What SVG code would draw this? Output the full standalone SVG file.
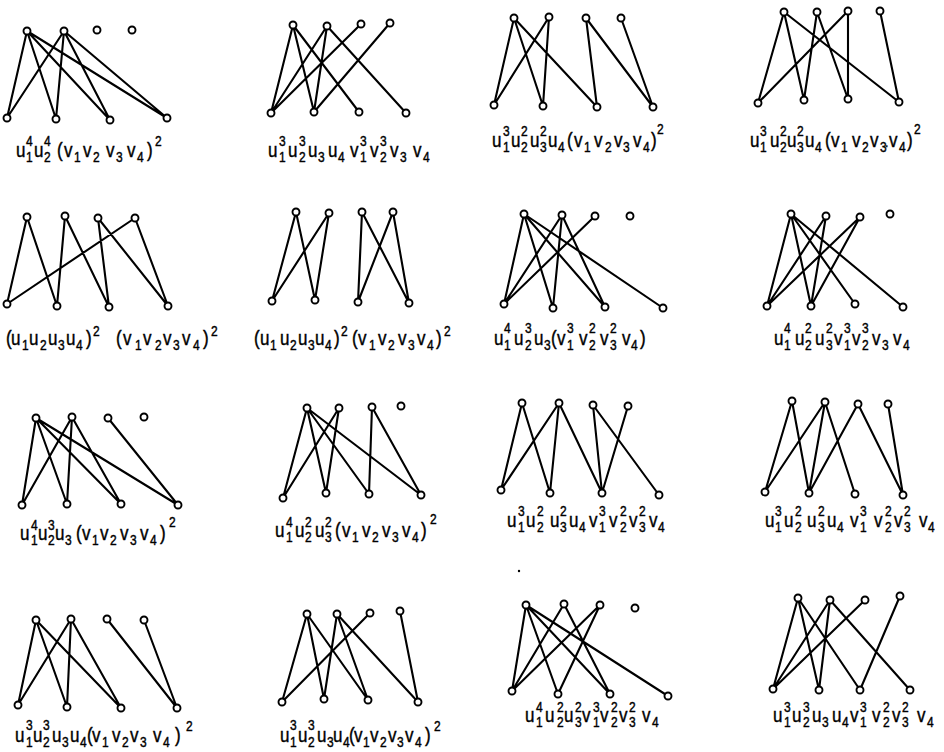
<svg xmlns="http://www.w3.org/2000/svg" width="944" height="752" viewBox="0 0 944 752">
<style>
.e{stroke:#000;stroke-width:2.1;fill:none;stroke-linecap:round}
.nodes circle{fill:#fff;stroke:#000;stroke-width:1.9}
text{font-family:"Liberation Sans",Arial,sans-serif;fill:#000;stroke:#000;stroke-width:0.35}
.b{font-size:17px}
.d{font-size:12px}
</style>
<rect width="944" height="752" fill="#fff"/>
<g id="connectors" class="e">
<path id="c1" d="M27 31L7 118M27 31L56 119M27 31L110 120M27 31L167 118M64 31L7 118M64 31L56 119M64 31L110 120M64 31L167 118"/>
<path id="c2" d="M293 25L271 113M293 25L314 112M293 25L359 112M327 26L271 113M327 26L314 112M327 26L406 113M361 24L271 113M390 23L314 112"/>
<path id="c3" d="M514 18L494 105M514 18L543 106M514 18L597 107M549 17L494 105M549 17L543 106M586 18L597 107M586 18L653 107M621 18L653 107"/>
<path id="c4" d="M784 12L758 103M784 12L804 100M784 12L899 102M817 12L804 100M817 12L848 99M848 11L758 103M848 11L848 99M880 11L899 102"/>
<path id="c5" d="M27 217L7 304M27 217L57 306M65 216L57 306M65 216L109 307M98 218L109 307M98 218L168 306M135 218L7 304M135 218L168 306"/>
<path id="c6" d="M296 212L272 301M296 212L315 300M329 213L272 301M329 213L315 300M362 212L358 302M362 212L409 303M393 212L358 302M393 212L409 303"/>
<path id="c7" d="M524 214L504 304M524 214L553 308M524 214L605 307M524 214L663 308M562 215L504 304M562 215L553 308M562 215L605 307M595 216L504 304"/>
<path id="c8" d="M791 214L767 306M791 214L811 306M791 214L855 304M791 214L903 307M826 216L767 306M826 216L811 306M860 217L767 306M860 217L811 306"/>
<path id="c9" d="M36 418L22 505M36 418L67 504M36 418L121 504M36 418L178 505M72 417L22 505M72 417L67 504M72 417L121 504M108 418L178 505"/>
<path id="c10" d="M307 408L283 498M307 408L326 493M307 408L369 494M307 408L421 495M339 408L283 498M339 408L326 493M372 407L369 494M372 407L421 495"/>
<path id="c11" d="M522 403L501 490M522 403L550 493M559 403L501 490M559 403L550 493M559 403L602 493M593 405L602 493M593 405L659 495M628 406L602 493"/>
<path id="c12" d="M792 401L765 492M792 401L809 493M825 402L765 492M825 402L809 493M825 402L855 494M858 404L809 493M858 404L903 495M888 404L903 495"/>
<path id="c13" d="M36 620L18 705M36 620L67 707M36 620L121 708M71 619L18 705M71 619L67 707M71 619L121 708M107 619L177 708M144 620L177 708"/>
<path id="c14" d="M307 614L282 702M307 614L324 699M307 614L368 700M337 614L324 699M337 614L368 700M337 614L418 702M370 613L282 702M400 611L418 702"/>
<path id="c15" d="M526 605L512 691M526 605L558 694M526 605L610 694M526 605L668 696M564 604L512 691M564 604L610 694M600 605L512 691M600 605L558 694"/>
<path id="c16" d="M798 598L773 689M798 598L819 690M798 598L860 690M830 600L773 689M830 600L819 690M830 600L910 690M865 600L773 689M900 596L860 690"/>
</g>
<g class="nodes">
<g id="g1-u1"><circle cx="27" cy="31" r="3.5"/></g><g id="g1-u2"><circle cx="64" cy="31" r="3.5"/></g><g id="g1-u3"><circle cx="97" cy="30" r="3.5"/></g><g id="g1-u4"><circle cx="132" cy="30" r="3.5"/></g>
<g id="g1-v1"><circle cx="7" cy="118" r="3.5"/></g><g id="g1-v2"><circle cx="56" cy="119" r="3.5"/></g><g id="g1-v3"><circle cx="110" cy="120" r="3.5"/></g><g id="g1-v4"><circle cx="167" cy="118" r="3.5"/></g>
<g id="g2-u1"><circle cx="293" cy="25" r="3.5"/></g><g id="g2-u2"><circle cx="327" cy="26" r="3.5"/></g><g id="g2-u3"><circle cx="361" cy="24" r="3.5"/></g><g id="g2-u4"><circle cx="390" cy="23" r="3.5"/></g>
<g id="g2-v1"><circle cx="271" cy="113" r="3.5"/></g><g id="g2-v2"><circle cx="314" cy="112" r="3.5"/></g><g id="g2-v3"><circle cx="359" cy="112" r="3.5"/></g><g id="g2-v4"><circle cx="406" cy="113" r="3.5"/></g>
<g id="g3-u1"><circle cx="514" cy="18" r="3.5"/></g><g id="g3-u2"><circle cx="549" cy="17" r="3.5"/></g><g id="g3-u3"><circle cx="586" cy="18" r="3.5"/></g><g id="g3-u4"><circle cx="621" cy="18" r="3.5"/></g>
<g id="g3-v1"><circle cx="494" cy="105" r="3.5"/></g><g id="g3-v2"><circle cx="543" cy="106" r="3.5"/></g><g id="g3-v3"><circle cx="597" cy="107" r="3.5"/></g><g id="g3-v4"><circle cx="653" cy="107" r="3.5"/></g>
<g id="g4-u1"><circle cx="784" cy="12" r="3.5"/></g><g id="g4-u2"><circle cx="817" cy="12" r="3.5"/></g><g id="g4-u3"><circle cx="848" cy="11" r="3.5"/></g><g id="g4-u4"><circle cx="880" cy="11" r="3.5"/></g>
<g id="g4-v1"><circle cx="758" cy="103" r="3.5"/></g><g id="g4-v2"><circle cx="804" cy="100" r="3.5"/></g><g id="g4-v3"><circle cx="848" cy="99" r="3.5"/></g><g id="g4-v4"><circle cx="899" cy="102" r="3.5"/></g>
<g id="g5-u1"><circle cx="27" cy="217" r="3.5"/></g><g id="g5-u2"><circle cx="65" cy="216" r="3.5"/></g><g id="g5-u3"><circle cx="98" cy="218" r="3.5"/></g><g id="g5-u4"><circle cx="135" cy="218" r="3.5"/></g>
<g id="g5-v1"><circle cx="7" cy="304" r="3.5"/></g><g id="g5-v2"><circle cx="57" cy="306" r="3.5"/></g><g id="g5-v3"><circle cx="109" cy="307" r="3.5"/></g><g id="g5-v4"><circle cx="168" cy="306" r="3.5"/></g>
<g id="g6-u1"><circle cx="296" cy="212" r="3.5"/></g><g id="g6-u2"><circle cx="329" cy="213" r="3.5"/></g><g id="g6-u3"><circle cx="362" cy="212" r="3.5"/></g><g id="g6-u4"><circle cx="393" cy="212" r="3.5"/></g>
<g id="g6-v1"><circle cx="272" cy="301" r="3.5"/></g><g id="g6-v2"><circle cx="315" cy="300" r="3.5"/></g><g id="g6-v3"><circle cx="358" cy="302" r="3.5"/></g><g id="g6-v4"><circle cx="409" cy="303" r="3.5"/></g>
<g id="g7-u1"><circle cx="524" cy="214" r="3.5"/></g><g id="g7-u2"><circle cx="562" cy="215" r="3.5"/></g><g id="g7-u3"><circle cx="595" cy="216" r="3.5"/></g><g id="g7-u4"><circle cx="630" cy="216" r="3.5"/></g>
<g id="g7-v1"><circle cx="504" cy="304" r="3.5"/></g><g id="g7-v2"><circle cx="553" cy="308" r="3.5"/></g><g id="g7-v3"><circle cx="605" cy="307" r="3.5"/></g><g id="g7-v4"><circle cx="663" cy="308" r="3.5"/></g>
<g id="g8-u1"><circle cx="791" cy="214" r="3.5"/></g><g id="g8-u2"><circle cx="826" cy="216" r="3.5"/></g><g id="g8-u3"><circle cx="860" cy="217" r="3.5"/></g><g id="g8-u4"><circle cx="890" cy="214" r="3.5"/></g>
<g id="g8-v1"><circle cx="767" cy="306" r="3.5"/></g><g id="g8-v2"><circle cx="811" cy="306" r="3.5"/></g><g id="g8-v3"><circle cx="855" cy="304" r="3.5"/></g><g id="g8-v4"><circle cx="903" cy="307" r="3.5"/></g>
<g id="g9-u1"><circle cx="36" cy="418" r="3.5"/></g><g id="g9-u2"><circle cx="72" cy="417" r="3.5"/></g><g id="g9-u3"><circle cx="108" cy="418" r="3.5"/></g><g id="g9-u4"><circle cx="144" cy="417" r="3.5"/></g>
<g id="g9-v1"><circle cx="22" cy="505" r="3.5"/></g><g id="g9-v2"><circle cx="67" cy="504" r="3.5"/></g><g id="g9-v3"><circle cx="121" cy="504" r="3.5"/></g><g id="g9-v4"><circle cx="178" cy="505" r="3.5"/></g>
<g id="g10-u1"><circle cx="307" cy="408" r="3.5"/></g><g id="g10-u2"><circle cx="339" cy="408" r="3.5"/></g><g id="g10-u3"><circle cx="372" cy="407" r="3.5"/></g><g id="g10-u4"><circle cx="401" cy="406" r="3.5"/></g>
<g id="g10-v1"><circle cx="283" cy="498" r="3.5"/></g><g id="g10-v2"><circle cx="326" cy="493" r="3.5"/></g><g id="g10-v3"><circle cx="369" cy="494" r="3.5"/></g><g id="g10-v4"><circle cx="421" cy="495" r="3.5"/></g>
<g id="g11-u1"><circle cx="522" cy="403" r="3.5"/></g><g id="g11-u2"><circle cx="559" cy="403" r="3.5"/></g><g id="g11-u3"><circle cx="593" cy="405" r="3.5"/></g><g id="g11-u4"><circle cx="628" cy="406" r="3.5"/></g>
<g id="g11-v1"><circle cx="501" cy="490" r="3.5"/></g><g id="g11-v2"><circle cx="550" cy="493" r="3.5"/></g><g id="g11-v3"><circle cx="602" cy="493" r="3.5"/></g><g id="g11-v4"><circle cx="659" cy="495" r="3.5"/></g>
<g id="g12-u1"><circle cx="792" cy="401" r="3.5"/></g><g id="g12-u2"><circle cx="825" cy="402" r="3.5"/></g><g id="g12-u3"><circle cx="858" cy="404" r="3.5"/></g><g id="g12-u4"><circle cx="888" cy="404" r="3.5"/></g>
<g id="g12-v1"><circle cx="765" cy="492" r="3.5"/></g><g id="g12-v2"><circle cx="809" cy="493" r="3.5"/></g><g id="g12-v3"><circle cx="855" cy="494" r="3.5"/></g><g id="g12-v4"><circle cx="903" cy="495" r="3.5"/></g>
<g id="g13-u1"><circle cx="36" cy="620" r="3.5"/></g><g id="g13-u2"><circle cx="71" cy="619" r="3.5"/></g><g id="g13-u3"><circle cx="107" cy="619" r="3.5"/></g><g id="g13-u4"><circle cx="144" cy="620" r="3.5"/></g>
<g id="g13-v1"><circle cx="18" cy="705" r="3.5"/></g><g id="g13-v2"><circle cx="67" cy="707" r="3.5"/></g><g id="g13-v3"><circle cx="121" cy="708" r="3.5"/></g><g id="g13-v4"><circle cx="177" cy="708" r="3.5"/></g>
<g id="g14-u1"><circle cx="307" cy="614" r="3.5"/></g><g id="g14-u2"><circle cx="337" cy="614" r="3.5"/></g><g id="g14-u3"><circle cx="370" cy="613" r="3.5"/></g><g id="g14-u4"><circle cx="400" cy="611" r="3.5"/></g>
<g id="g14-v1"><circle cx="282" cy="702" r="3.5"/></g><g id="g14-v2"><circle cx="324" cy="699" r="3.5"/></g><g id="g14-v3"><circle cx="368" cy="700" r="3.5"/></g><g id="g14-v4"><circle cx="418" cy="702" r="3.5"/></g>
<g id="g15-u1"><circle cx="526" cy="605" r="3.5"/></g><g id="g15-u2"><circle cx="564" cy="604" r="3.5"/></g><g id="g15-u3"><circle cx="600" cy="605" r="3.5"/></g><g id="g15-u4"><circle cx="635" cy="608" r="3.5"/></g>
<g id="g15-v1"><circle cx="512" cy="691" r="3.5"/></g><g id="g15-v2"><circle cx="558" cy="694" r="3.5"/></g><g id="g15-v3"><circle cx="610" cy="694" r="3.5"/></g><g id="g15-v4"><circle cx="668" cy="696" r="3.5"/></g>
<g id="g16-u1"><circle cx="798" cy="598" r="3.5"/></g><g id="g16-u2"><circle cx="830" cy="600" r="3.5"/></g><g id="g16-u3"><circle cx="865" cy="600" r="3.5"/></g><g id="g16-u4"><circle cx="900" cy="596" r="3.5"/></g>
<g id="g16-v1"><circle cx="773" cy="689" r="3.5"/></g><g id="g16-v2"><circle cx="819" cy="690" r="3.5"/></g><g id="g16-v3"><circle cx="860" cy="690" r="3.5"/></g><g id="g16-v4"><circle cx="910" cy="690" r="3.5"/></g>
</g>
<circle cx="519" cy="571" r="1.2" fill="#000"/>
<g id="labels">
<text id="l1" transform="matrix(1 0 0 1.2 0 -31.4)"><tspan class="b" x="16" y="157">u</tspan><tspan class="d" x="26" y="161">1</tspan><tspan class="d" x="26" y="148">4</tspan><tspan class="b" x="34" y="157">u</tspan><tspan class="d" x="44" y="161">2</tspan><tspan class="d" x="44" y="148">4</tspan><tspan class="b" x="57" y="157">(</tspan><tspan class="b" x="64" y="157">v</tspan><tspan class="d" x="74" y="161">1</tspan><tspan class="b" x="83" y="157">v</tspan><tspan class="d" x="93" y="161">2</tspan><tspan class="b" x="106" y="157">v</tspan><tspan class="d" x="116" y="161">3</tspan><tspan class="b" x="127" y="157">v</tspan><tspan class="d" x="137" y="161">4</tspan><tspan class="b" x="147" y="157">)</tspan><tspan class="d" x="155" y="148">2</tspan></text>
<text id="l2" transform="matrix(1 0 0 1.2 0 -31.4)"><tspan class="b" x="268" y="157">u</tspan><tspan class="d" x="279" y="161">1</tspan><tspan class="d" x="279" y="148">3</tspan><tspan class="b" x="288" y="157">u</tspan><tspan class="d" x="299" y="161">2</tspan><tspan class="d" x="299" y="148">3</tspan><tspan class="b" x="308" y="157">u</tspan><tspan class="d" x="318" y="161">3</tspan><tspan class="b" x="328" y="157">u</tspan><tspan class="d" x="338" y="161">4</tspan><tspan class="b" x="350" y="157">v</tspan><tspan class="d" x="360" y="161">1</tspan><tspan class="d" x="360" y="148">3</tspan><tspan class="b" x="370" y="157">v</tspan><tspan class="d" x="380" y="161">2</tspan><tspan class="d" x="380" y="148">3</tspan><tspan class="b" x="390" y="157">v</tspan><tspan class="d" x="400" y="161">3</tspan><tspan class="b" x="413" y="157">v</tspan><tspan class="d" x="423" y="161">4</tspan></text>
<text id="l3" transform="matrix(1 0 0 1.2 0 -29.4)"><tspan class="b" x="492" y="147">u</tspan><tspan class="d" x="503" y="151">1</tspan><tspan class="d" x="503" y="138">3</tspan><tspan class="b" x="511" y="147">u</tspan><tspan class="d" x="521" y="151">2</tspan><tspan class="d" x="521" y="138">2</tspan><tspan class="b" x="530" y="147">u</tspan><tspan class="d" x="540" y="151">3</tspan><tspan class="d" x="540" y="138">2</tspan><tspan class="b" x="548" y="147">u</tspan><tspan class="d" x="558" y="151">4</tspan><tspan class="b" x="567" y="147">(</tspan><tspan class="b" x="574" y="147">v</tspan><tspan class="d" x="584" y="151">1</tspan><tspan class="b" x="594" y="147">v</tspan><tspan class="d" x="605" y="151">2</tspan><tspan class="b" x="614" y="147">v</tspan><tspan class="d" x="623" y="151">3</tspan><tspan class="b" x="633" y="147">v</tspan><tspan class="d" x="643" y="151">4</tspan><tspan class="b" x="651" y="147">)</tspan><tspan class="d" x="657" y="136">2</tspan></text>
<text id="l4" transform="matrix(1 0 0 1.2 0 -29.4)"><tspan class="b" x="750" y="147">u</tspan><tspan class="d" x="760" y="151">1</tspan><tspan class="d" x="760" y="138">3</tspan><tspan class="b" x="770" y="147">u</tspan><tspan class="d" x="780" y="151">2</tspan><tspan class="d" x="780" y="138">2</tspan><tspan class="b" x="787" y="147">u</tspan><tspan class="d" x="797" y="151">3</tspan><tspan class="d" x="797" y="138">2</tspan><tspan class="b" x="805" y="147">u</tspan><tspan class="d" x="815" y="151">4</tspan><tspan class="b" x="825" y="147">(</tspan><tspan class="b" x="831" y="147">v</tspan><tspan class="d" x="841" y="151">1</tspan><tspan class="b" x="852" y="147">v</tspan><tspan class="d" x="862" y="151">2</tspan><tspan class="b" x="870" y="147">v</tspan><tspan class="d" x="880" y="151">3</tspan><tspan class="d" x="885" y="147">.</tspan><tspan class="b" x="889" y="147">v</tspan><tspan class="d" x="899" y="151">4</tspan><tspan class="b" x="907" y="147">)</tspan><tspan class="d" x="914" y="136">2</tspan></text>
<text id="l5" transform="matrix(1 0 0 1.2 0 -69)"><tspan class="b" x="6" y="345">(</tspan><tspan class="b" x="11" y="345">u</tspan><tspan class="d" x="22" y="349">1</tspan><tspan class="b" x="29" y="345">u</tspan><tspan class="d" x="40" y="349">2</tspan><tspan class="b" x="48" y="345">u</tspan><tspan class="d" x="58" y="349">3</tspan><tspan class="b" x="66" y="345">u</tspan><tspan class="d" x="76" y="349">4</tspan><tspan class="b" x="86" y="345">)</tspan><tspan class="d" x="93" y="337.5">2</tspan><tspan class="b" x="116" y="345">(</tspan><tspan class="b" x="123" y="345">v</tspan><tspan class="d" x="135" y="349">1</tspan><tspan class="b" x="143" y="345">v</tspan><tspan class="d" x="155" y="349">2</tspan><tspan class="b" x="163" y="345">v</tspan><tspan class="d" x="173" y="349">3</tspan><tspan class="b" x="182" y="345">v</tspan><tspan class="d" x="193" y="349">4</tspan><tspan class="b" x="203" y="345">)</tspan><tspan class="d" x="211" y="337.5">2</tspan></text>
<text id="l6" transform="matrix(1 0 0 1.2 0 -69)"><tspan class="b" x="254" y="345">(</tspan><tspan class="b" x="260" y="345">u</tspan><tspan class="d" x="270" y="349">1</tspan><tspan class="b" x="280" y="345">u</tspan><tspan class="d" x="290" y="349">2</tspan><tspan class="b" x="298" y="345">u</tspan><tspan class="d" x="308" y="349">3</tspan><tspan class="b" x="315" y="345">u</tspan><tspan class="d" x="325" y="349">4</tspan><tspan class="b" x="334" y="345">)</tspan><tspan class="d" x="341" y="337.5">2</tspan><tspan class="b" x="352" y="345">(</tspan><tspan class="b" x="358" y="345">v</tspan><tspan class="d" x="369" y="349">1</tspan><tspan class="b" x="378" y="345">v</tspan><tspan class="d" x="388" y="349">2</tspan><tspan class="b" x="398" y="345">v</tspan><tspan class="d" x="408" y="349">3</tspan><tspan class="b" x="417" y="345">v</tspan><tspan class="d" x="427" y="349">4</tspan><tspan class="b" x="436" y="345">)</tspan><tspan class="d" x="444" y="337.5">2</tspan></text>
<text id="l7" transform="matrix(1 0 0 1.2 0 -69)"><tspan class="b" x="494" y="345">u</tspan><tspan class="d" x="504" y="349">1</tspan><tspan class="d" x="504" y="335">4</tspan><tspan class="b" x="514" y="345">u</tspan><tspan class="d" x="525" y="349">2</tspan><tspan class="d" x="525" y="335">3</tspan><tspan class="b" x="534" y="345">u</tspan><tspan class="d" x="544" y="349">3</tspan><tspan class="b" x="551" y="345">(</tspan><tspan class="b" x="557" y="345">v</tspan><tspan class="d" x="567" y="349">1</tspan><tspan class="d" x="567" y="335">3</tspan><tspan class="b" x="579" y="345">v</tspan><tspan class="d" x="589" y="349">2</tspan><tspan class="d" x="589" y="335">2</tspan><tspan class="b" x="600" y="345">v</tspan><tspan class="d" x="610" y="349">3</tspan><tspan class="d" x="610" y="335">2</tspan><tspan class="b" x="622" y="345">v</tspan><tspan class="d" x="631" y="349">4</tspan><tspan class="b" x="640" y="345">)</tspan></text>
<text id="l8" transform="matrix(1 0 0 1.2 0 -69)"><tspan class="b" x="774" y="345">u</tspan><tspan class="d" x="784" y="349">1</tspan><tspan class="d" x="784" y="335">4</tspan><tspan class="b" x="795" y="345">u</tspan><tspan class="d" x="805" y="349">2</tspan><tspan class="d" x="805" y="335">2</tspan><tspan class="b" x="815" y="345">u</tspan><tspan class="d" x="826" y="349">3</tspan><tspan class="d" x="826" y="335">2</tspan><tspan class="b" x="834" y="345">v</tspan><tspan class="d" x="844" y="349">1</tspan><tspan class="d" x="844" y="335">3</tspan><tspan class="b" x="852" y="345">v</tspan><tspan class="d" x="862" y="349">2</tspan><tspan class="d" x="862" y="335">3</tspan><tspan class="b" x="872" y="345">v</tspan><tspan class="d" x="882" y="349">3</tspan><tspan class="b" x="893" y="345">v</tspan><tspan class="d" x="903" y="349">4</tspan></text>
<text id="l9" transform="matrix(1 0 0 1.2 0 -108)"><tspan class="b" x="20" y="540">u</tspan><tspan class="d" x="31" y="544">1</tspan><tspan class="d" x="31" y="531.7">4</tspan><tspan class="b" x="38" y="540">u</tspan><tspan class="d" x="48" y="544">2</tspan><tspan class="d" x="48" y="531.7">3</tspan><tspan class="b" x="55" y="540">u</tspan><tspan class="d" x="65" y="544">3</tspan><tspan class="b" x="76" y="540">(</tspan><tspan class="b" x="82" y="540">v</tspan><tspan class="d" x="92" y="544">1</tspan><tspan class="b" x="100" y="540">v</tspan><tspan class="d" x="110" y="544">2</tspan><tspan class="b" x="120" y="540">v</tspan><tspan class="d" x="130" y="544">3</tspan><tspan class="b" x="140" y="540">v</tspan><tspan class="d" x="150" y="544">4</tspan><tspan class="b" x="160" y="540">)</tspan><tspan class="d" x="169" y="529.2">2</tspan></text>
<text id="l10" transform="matrix(1 0 0 1.2 0 -107.4)"><tspan class="b" x="275" y="537">u</tspan><tspan class="d" x="286" y="541">1</tspan><tspan class="d" x="286" y="528.7">4</tspan><tspan class="b" x="295" y="537">u</tspan><tspan class="d" x="305" y="541">2</tspan><tspan class="d" x="305" y="528.7">2</tspan><tspan class="b" x="315" y="537">u</tspan><tspan class="d" x="325" y="541">3</tspan><tspan class="d" x="325" y="528.7">2</tspan><tspan class="b" x="335" y="537">(</tspan><tspan class="b" x="342" y="537">v</tspan><tspan class="d" x="352" y="541">1</tspan><tspan class="b" x="362" y="537">v</tspan><tspan class="d" x="372" y="541">2</tspan><tspan class="b" x="382" y="537">v</tspan><tspan class="d" x="392" y="541">3</tspan><tspan class="b" x="402" y="537">v</tspan><tspan class="d" x="412" y="541">4</tspan><tspan class="b" x="421" y="537">)</tspan><tspan class="d" x="430" y="526.2">2</tspan></text>
<text id="l11" transform="matrix(1 0 0 1.2 0 -105.4)"><tspan class="b" x="507" y="527">u</tspan><tspan class="d" x="518" y="531">1</tspan><tspan class="d" x="518" y="517.8">3</tspan><tspan class="b" x="526" y="527">u</tspan><tspan class="d" x="537" y="531">2</tspan><tspan class="d" x="537" y="517.8">2</tspan><tspan class="b" x="550" y="527">u</tspan><tspan class="d" x="560" y="531">3</tspan><tspan class="d" x="560" y="517.8">2</tspan><tspan class="b" x="569" y="527">u</tspan><tspan class="d" x="579" y="531">4</tspan><tspan class="b" x="589" y="527">v</tspan><tspan class="d" x="599" y="531">1</tspan><tspan class="d" x="599" y="517.8">3</tspan><tspan class="b" x="609" y="527">v</tspan><tspan class="d" x="620" y="531">2</tspan><tspan class="d" x="620" y="517.8">2</tspan><tspan class="b" x="629" y="527">v</tspan><tspan class="d" x="639" y="531">3</tspan><tspan class="d" x="639" y="517.8">2</tspan><tspan class="b" x="649" y="527">v</tspan><tspan class="d" x="658" y="531">4</tspan></text>
<text id="l12" transform="matrix(1 0 0 1.2 0 -105.4)"><tspan class="b" x="765" y="527">u</tspan><tspan class="d" x="775" y="531">1</tspan><tspan class="d" x="775" y="517.8">3</tspan><tspan class="b" x="784" y="527">u</tspan><tspan class="d" x="795" y="531">2</tspan><tspan class="d" x="795" y="517.8">2</tspan><tspan class="b" x="807" y="527">u</tspan><tspan class="d" x="818" y="531">3</tspan><tspan class="d" x="818" y="517.8">2</tspan><tspan class="b" x="827" y="527">u</tspan><tspan class="d" x="837" y="531">4</tspan><tspan class="b" x="850" y="527">v</tspan><tspan class="d" x="860" y="531">1</tspan><tspan class="d" x="860" y="517.8">3</tspan><tspan class="b" x="874" y="527">v</tspan><tspan class="d" x="885" y="531">2</tspan><tspan class="d" x="885" y="517.8">2</tspan><tspan class="b" x="894" y="527">v</tspan><tspan class="d" x="904" y="531">3</tspan><tspan class="d" x="904" y="517.8">2</tspan><tspan class="b" x="919" y="527">v</tspan><tspan class="d" x="928" y="531">4</tspan></text>
<text id="l13" transform="matrix(1 0 0 1.2 0 -148.4)"><tspan class="b" x="15" y="742">u</tspan><tspan class="d" x="26" y="746">1</tspan><tspan class="d" x="26" y="732">3</tspan><tspan class="b" x="33" y="742">u</tspan><tspan class="d" x="43" y="746">2</tspan><tspan class="d" x="43" y="732">3</tspan><tspan class="b" x="52" y="742">u</tspan><tspan class="d" x="62" y="746">3</tspan><tspan class="b" x="70" y="742">u</tspan><tspan class="d" x="80" y="746">4</tspan><tspan class="b" x="87" y="742">(</tspan><tspan class="b" x="92" y="742">v</tspan><tspan class="d" x="102" y="746">1</tspan><tspan class="b" x="112" y="742">v</tspan><tspan class="d" x="122" y="746">2</tspan><tspan class="b" x="130" y="742">v</tspan><tspan class="d" x="140" y="746">3</tspan><tspan class="b" x="153" y="742">v</tspan><tspan class="d" x="163" y="746">4</tspan><tspan class="b" x="175" y="742">)</tspan><tspan class="d" x="186" y="732.8">2</tspan></text>
<text id="l14" transform="matrix(1 0 0 1.2 0 -148.4)"><tspan class="b" x="280" y="742">u</tspan><tspan class="d" x="290" y="746">1</tspan><tspan class="d" x="290" y="732">3</tspan><tspan class="b" x="298" y="742">u</tspan><tspan class="d" x="308" y="746">2</tspan><tspan class="d" x="308" y="732">3</tspan><tspan class="b" x="317" y="742">u</tspan><tspan class="d" x="327" y="746">3</tspan><tspan class="b" x="333" y="742">u</tspan><tspan class="d" x="343" y="746">4</tspan><tspan class="b" x="349" y="742">(</tspan><tspan class="b" x="354" y="742">v</tspan><tspan class="d" x="363" y="746">1</tspan><tspan class="b" x="370" y="742">v</tspan><tspan class="d" x="380" y="746">2</tspan><tspan class="b" x="388" y="742">v</tspan><tspan class="d" x="397" y="746">3</tspan><tspan class="b" x="405" y="742">v</tspan><tspan class="d" x="415" y="746">4</tspan><tspan class="b" x="425" y="742">)</tspan><tspan class="d" x="434" y="732.8">2</tspan></text>
<text id="l15" transform="matrix(1 0 0 1.2 0 -144.4)"><tspan class="b" x="525" y="722">u</tspan><tspan class="d" x="536" y="726">1</tspan><tspan class="d" x="536" y="713.7">4</tspan><tspan class="b" x="545" y="722">u</tspan><tspan class="d" x="557" y="726">2</tspan><tspan class="d" x="557" y="713.7">2</tspan><tspan class="b" x="564" y="722">u</tspan><tspan class="d" x="575" y="726">3</tspan><tspan class="d" x="575" y="713.7">2</tspan><tspan class="b" x="582" y="722">v</tspan><tspan class="d" x="593" y="726">1</tspan><tspan class="d" x="593" y="713.7">3</tspan><tspan class="b" x="600" y="722">v</tspan><tspan class="d" x="611" y="726">2</tspan><tspan class="d" x="611" y="713.7">2</tspan><tspan class="b" x="619" y="722">v</tspan><tspan class="d" x="629" y="726">3</tspan><tspan class="d" x="629" y="713.7">2</tspan><tspan class="b" x="642" y="722">v</tspan><tspan class="d" x="652" y="726">4</tspan></text>
<text id="l16" transform="matrix(1 0 0 1.2 0 -144.4)"><tspan class="b" x="773" y="722">u</tspan><tspan class="d" x="784" y="726">1</tspan><tspan class="d" x="784" y="713.7">3</tspan><tspan class="b" x="792" y="722">u</tspan><tspan class="d" x="803" y="726">2</tspan><tspan class="d" x="803" y="713.7">3</tspan><tspan class="b" x="812" y="722">u</tspan><tspan class="d" x="822" y="726">3</tspan><tspan class="b" x="832" y="722">u</tspan><tspan class="d" x="842" y="726">4</tspan><tspan class="b" x="850" y="722">v</tspan><tspan class="d" x="860" y="726">1</tspan><tspan class="d" x="860" y="713.7">3</tspan><tspan class="b" x="872" y="722">v</tspan><tspan class="d" x="883" y="726">2</tspan><tspan class="d" x="883" y="713.7">2</tspan><tspan class="b" x="892" y="722">v</tspan><tspan class="d" x="902" y="726">3</tspan><tspan class="d" x="902" y="713.7">2</tspan><tspan class="b" x="917" y="722">v</tspan><tspan class="d" x="927" y="726">4</tspan></text>
</g>
</svg>
